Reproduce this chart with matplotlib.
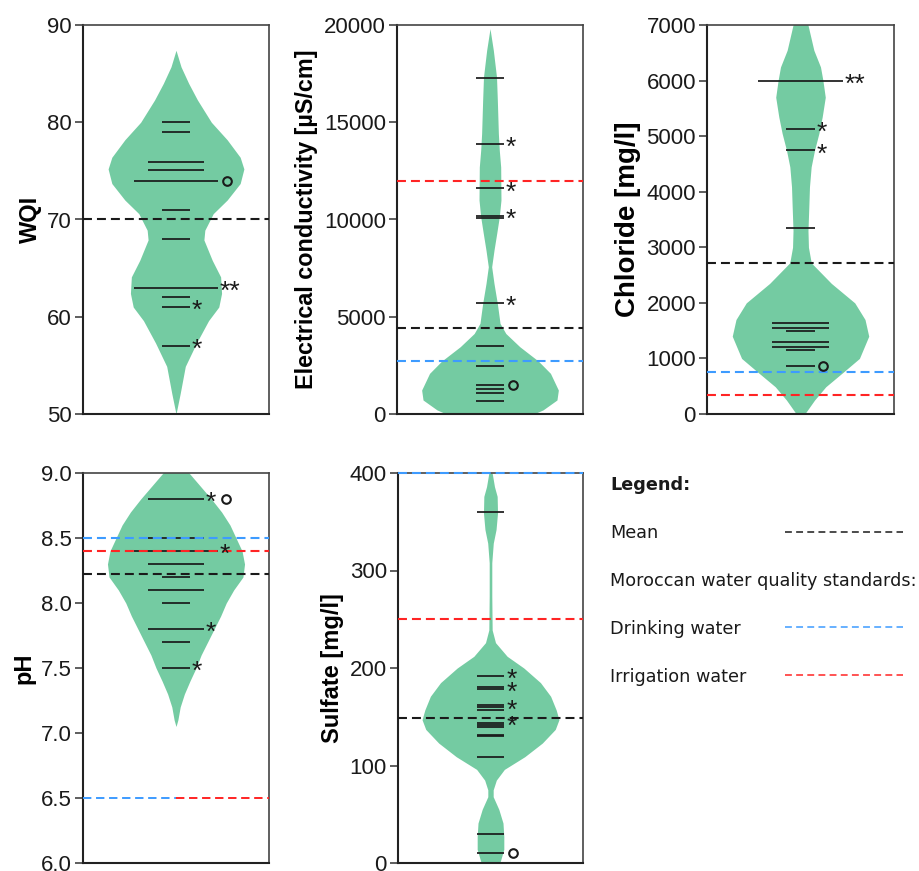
import numpy as np
import matplotlib
matplotlib.use("Agg")
import matplotlib.pyplot as plt
from matplotlib.transforms import ScaledTranslation
from matplotlib.lines import Line2D

plt.rcParams['font.family'] = ['Liberation Sans', 'DejaVu Sans']

GREEN = '#74cba2'
BLUE = '#3d9bff'
RED = '#ff2424'
INK = '#1a1a1a'

# ---------------- WQI ----------------
wqi_vals = [80, 79, 75.9, 75.1, 74, 71, 68, 63, 62, 61, 57]
wqi_counts = [1, 1, 2, 2, 3, 1, 1, 3, 1, 1, 1]
wqi_marks = ['', '', '', '', 'o', '', '', '**', '', '*', '*']
wqi_mean = 70
wqi_prof_y = [87.4, 85.7, 84.0, 82.3, 80.0, 78.2, 76.4, 75.2, 73.7, 72.0, 70.6,
              68.9, 67.9, 65.8, 64.1, 62.4, 61.0, 59.6, 57.3, 54.9, 52.1, 50.0]
wqi_prof_w = [0.0, 0.054, 0.136, 0.23, 0.38, 0.55, 0.69, 0.73, 0.69, 0.55, 0.40,
              0.31, 0.30, 0.39, 0.48, 0.49, 0.46, 0.35, 0.22, 0.10, 0.045, 0.0]

# ---------------- Electrical conductivity ----------------
ec_vals = [17300, 13900, 11600, 10200, 10100, 5700, 3490, 2480, 1490, 1280, 1060, 670]
ec_counts = [1] * 12
ec_marks = ['', '*', '*', '*', '', '*', '', '', 'o', '', '', '']
ec_mean = 4400
ec_drink = [2700]
ec_irrig = [12000]
ec_prof_y = [19810, 18700, 17330, 16130, 14420, 13560, 12700, 11000, 10140, 9280,
             8420, 7570, 6710, 5680, 4660, 4140, 3460, 2720, 2090, 1230, 720, 210, 0]
ec_prof_w = [0.0, 0.036, 0.07, 0.079, 0.09, 0.10, 0.115, 0.118, 0.10, 0.072,
             0.043, 0.018, 0.043, 0.079, 0.108, 0.17, 0.32, 0.52, 0.65, 0.735, 0.72, 0.57, 0.47]

# ---------------- Chloride ----------------
cl_vals = [6000, 5130, 4745, 3355, 1642, 1541, 1493, 1300, 1210, 1151, 863]
cl_counts = [3, 1, 1, 1, 2, 2, 1, 2, 2, 1, 1]
cl_marks = ['**', '*', '*', '', '', '', '', '', '', '', 'o']
cl_mean = 2720
cl_drink = [750]
cl_irrig = [350]
cl_prof_y = [7300, 7000, 6545, 6245, 6000, 5700, 5345, 5046, 4747, 4447, 4088, 3728,
             3300, 3000, 2720, 2350, 2000, 1700, 1400, 1000, 750, 490, 250, 0]
cl_prof_w = [0.0, 0.08, 0.143, 0.214, 0.24, 0.265, 0.232, 0.196, 0.15, 0.114, 0.096,
             0.089, 0.08, 0.085, 0.115, 0.33, 0.58, 0.69, 0.73, 0.63, 0.455, 0.27, 0.15, 0.045]

# ---------------- pH ----------------
ph_vals = [8.8, 8.5, 8.4, 8.3, 8.2, 8.1, 8.0, 7.8, 7.7, 7.5]
ph_counts = [2, 2, 3, 2, 1, 2, 1, 2, 1, 1]
ph_marks = ['*o', '', '*', '', '', '', '', '*', '', '*']
ph_mean = 8.22
ph_drink = [6.5, 8.5]
ph_irrig = [6.5, 8.4]
ph_prof_y = [9.15, 9.0, 8.9, 8.8, 8.7, 8.6, 8.5, 8.4, 8.3, 8.2, 8.1, 8.0,
             7.9, 7.8, 7.7, 7.6, 7.5, 7.4, 7.3, 7.2, 7.1, 7.05]
ph_prof_w = [0.0, 0.14, 0.26, 0.38, 0.49, 0.58, 0.645, 0.71, 0.737, 0.72, 0.62, 0.54,
             0.48, 0.41, 0.34, 0.27, 0.215, 0.15, 0.09, 0.045, 0.02, 0.0]

# ---------------- Sulfate ----------------
so4_vals = [360, 192, 180.5, 178.5, 162, 160, 157, 143.6, 141.5, 139.5,
            131.5, 130.5, 109, 29.7, 10]
so4_counts = [1] * 15
so4_marks = ['', '*', '', '*', '', '*', '', '*', '', '', '', '', '', '', 'o']
so4_mean = 149
so4_drink = [400]
so4_irrig = [250]
so4_prof_y = [400, 386, 376, 359, 342, 328, 308, 274, 239, 226, 212, 200, 185, 171,
              157, 147, 137, 123, 109, 96, 85, 75, 68, 55, 41, 27, 14, 3, 0]
so4_prof_w = [0.018, 0.043, 0.072, 0.076, 0.06, 0.03, 0.014, 0.014, 0.018, 0.054,
              0.18, 0.36, 0.54, 0.65, 0.71, 0.74, 0.70, 0.56, 0.37, 0.15, 0.063,
              0.029, 0.029, 0.09, 0.135, 0.144, 0.144, 0.11, 0.10]

panels = [
    dict(rect=[83, 25, 186, 389], vals=wqi_vals, counts=wqi_counts, marks=wqi_marks,
         mean=wqi_mean, drink=[], irrig=[], py=wqi_prof_y, pw=wqi_prof_w,
         ylim=(50, 90), ticks=np.arange(50, 91, 10), fmt='{:.0f}',
         label='WQI', lsize=17),
    dict(rect=[397, 25, 186, 389], vals=ec_vals, counts=ec_counts, marks=ec_marks,
         mean=ec_mean, drink=ec_drink, irrig=ec_irrig, py=ec_prof_y, pw=ec_prof_w,
         ylim=(0, 20000), ticks=np.arange(0, 20001, 5000), fmt='{:.0f}',
         label='Electrical conductivity [µS/cm]', lsize=16.8),
    dict(rect=[707, 25, 187, 389], vals=cl_vals, counts=cl_counts, marks=cl_marks,
         mean=cl_mean, drink=cl_drink, irrig=cl_irrig, py=cl_prof_y, pw=cl_prof_w,
         ylim=(0, 7000), ticks=np.arange(0, 7001, 1000), fmt='{:.0f}',
         label='Chloride [mg/l]', lsize=20),
    dict(rect=[83, 473, 186, 390], vals=ph_vals, counts=ph_counts, marks=ph_marks,
         mean=ph_mean, drink=ph_drink, irrig=ph_irrig, py=ph_prof_y, pw=ph_prof_w,
         ylim=(6.0, 9.0), ticks=np.arange(6.0, 9.01, 0.5), fmt='{:.1f}',
         label='pH', lsize=17),
    dict(rect=[398, 473, 185, 390], vals=so4_vals, counts=so4_counts, marks=so4_marks,
         mean=so4_mean, drink=so4_drink, irrig=so4_irrig, py=so4_prof_y, pw=so4_prof_w,
         ylim=(0, 400), ticks=np.arange(0, 401, 100), fmt='{:.0f}',
         label='Sulfate [mg/l]', lsize=17),
]

W, H = 919, 871
fig = plt.figure(figsize=(W / 100, H / 100), dpi=100)

UNIT = 0.15   # half length of a data line per coincident sample
DASH = (4.3, 2.4)
STAR = 19

for p in panels:
    x, y, w, h = p['rect']
    ax = fig.add_axes([x / W, 1 - (y + h) / H, w / W, h / H])
    pw = np.array(p['pw'])
    ax.fill_betweenx(p['py'], -pw, pw, color=GREEN, lw=0, zorder=1)

    for v, n, m in zip(p['vals'], p['counts'], p['marks']):
        end = UNIT * n
        ax.plot([-end, end], [v, v], color=INK, lw=1.25, zorder=2,
                solid_capstyle='butt')
        if '*' in m:
            stars = m.replace('o', '')
            ax.annotate(stars, xy=(end, v), xytext=(1.5, -0.42 * STAR),
                        textcoords='offset points', ha='left', va='baseline',
                        fontsize=STAR, color=INK, zorder=4)
        if 'o' in m:
            dx = 16 if '*' in m else 6.3
            tr = ax.transData + ScaledTranslation(dx / 72, 0, fig.dpi_scale_trans)
            ax.plot([end], [v], marker='o', ms=6.2, mfc='none', mec=INK,
                    mew=1.5, transform=tr, zorder=4, clip_on=False)

    ax.axhline(p['mean'], color=INK, lw=1.5, dashes=DASH, zorder=3)
    both = set(p['drink']) & set(p['irrig'])
    for v in p['drink']:
        if v in both:
            ax.axhline(v, xmin=0, xmax=0.5, color=BLUE, lw=1.4, dashes=DASH, zorder=3)
        else:
            ax.axhline(v, color=BLUE, lw=1.5, dashes=DASH, zorder=3, clip_on=False)
    for v in p['irrig']:
        if v in both:
            ax.axhline(v, xmin=0.5, xmax=1, color=RED, lw=1.4, dashes=DASH, zorder=3)
        else:
            ax.axhline(v, color=RED, lw=1.5, dashes=DASH, zorder=3)

    ax.set_xlim(-1, 1)
    ax.set_ylim(*p['ylim'])
    ax.set_xticks([])
    ax.set_yticks(p['ticks'])
    ax.set_yticklabels([p['fmt'].format(t) for t in p['ticks']])
    ax.tick_params(axis='y', length=6, width=1.1, pad=2, labelsize=16,
                   color='#333333', labelcolor=INK)
    for side in ['left', 'bottom']:
        ax.spines[side].set_linewidth(1.5)
        ax.spines[side].set_color('#222222')
    for side in ['top', 'right']:
        ax.spines[side].set_linewidth(1.2)
        ax.spines[side].set_color('#444444')
    ax.set_ylabel(p['label'], fontsize=p['lsize'], fontweight='bold', labelpad=4)

# ---------------- legend block ----------------
leg_text = ['Legend:', 'Mean', 'Moroccan water quality standards:',
            'Drinking water', 'Irrigation water']
leg_color = [None, INK, None, BLUE, RED]
leg_bold = [True, False, False, False, False]
row0, step = 484, 47.8
for i, (t, c, b) in enumerate(zip(leg_text, leg_color, leg_bold)):
    yc = row0 + step * i
    fig.text(610 / W, 1 - (yc + 6.4) / H, t, fontsize=12.7, family='DejaVu Sans',
             fontweight='bold' if b else 'normal', va='baseline', ha='left',
             color=INK)
    if c is not None:
        fig.add_artist(Line2D([785 / W, 903 / W], [1 - yc / H] * 2, color=c,
                              lw=1.1, dashes=(4.5, 2.8), transform=fig.transFigure))

fig.savefig('out.png', dpi=100)
